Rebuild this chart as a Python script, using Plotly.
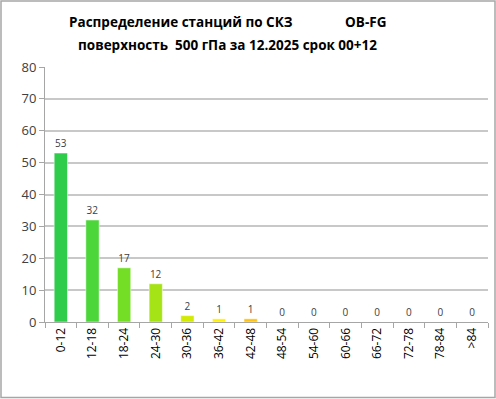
import plotly.graph_objects as go

categories = ["0-12", "12-18", "18-24", "24-30", "30-36", "36-42", "42-48",
              "48-54", "54-60", "60-66", "66-72", "72-78", "78-84", ">84"]
counts = [53, 32, 17, 12, 2, 1, 1, 0, 0, 0, 0, 0, 0, 0]
bar_colors = ["#2ecc4a", "#4cd63a", "#74de26", "#a6e316", "#d2ea06", "#fff200", "#ffc20e",
              "#ffc20e", "#ffc20e", "#ffc20e", "#ffc20e", "#ffc20e", "#ffc20e", "#ffc20e"]
y_ticks = [0, 10, 20, 30, 40, 50, 60, 70, 80]

W, H = 496, 399
ml, mr, mt, mb = 45, 8, 67, 77
pw, ph = W - ml - mr, H - mt - mb

fig = go.Figure(go.Bar(
    x=categories, y=counts,
    marker=dict(color=bar_colors, line=dict(color="rgba(255,255,255,0.5)", width=1)),
    text=[str(v) for v in counts], textposition="outside",
    textfont=dict(family="Open Sans, sans-serif", size=10, color="#404040"),
    cliponaxis=False,
))

fig.update_layout(
    width=W, height=H,
    margin=dict(l=ml, r=mr, t=mt, b=mb),
    paper_bgcolor="white", plot_bgcolor="white",
    bargap=0.58,
    showlegend=False,
    font=dict(family="Open Sans, sans-serif", color="#404040"),
    annotations=[
        dict(text="<b>Распределение станций по СКЗ               OB-FG</b>",
             xref="paper", yref="paper", x=(227 - ml) / pw, y=(322 - 22) / ph,
             xanchor="center", yanchor="middle", showarrow=False,
             font=dict(family="Open Sans, sans-serif", size=13.5, color="#000000")),
        dict(text="<b>поверхность  500 гПа за 12.2025 срок 00+12</b>",
             xref="paper", yref="paper", x=(227 - ml) / pw, y=(322 - 45) / ph,
             xanchor="center", yanchor="middle", showarrow=False,
             font=dict(family="Open Sans, sans-serif", size=13.5, color="#000000")),
    ],
    shapes=[dict(type="rect", xref="paper", yref="paper",
                 x0=(1 - ml) / pw, x1=(495 - ml) / pw,
                 y0=(322 - 397.5) / ph, y1=(322 - 1) / ph,
                 line=dict(color="#a6a6a6", width=1.5), fillcolor="rgba(0,0,0,0)")],
)
fig.update_xaxes(
    tickangle=-90, tickfont=dict(size=12, color="#000000"),
    showline=True, linecolor="#a6a6a6", linewidth=1,
    ticks="outside", tickson="boundaries", ticklen=5, tickcolor="#a6a6a6",
    showgrid=False,
)
fig.update_yaxes(
    range=[0, 80], tickvals=y_ticks, tickfont=dict(size=13, color="#404040"),
    showline=True, linecolor="#a6a6a6", linewidth=1,
    ticks="outside", ticklen=5, tickcolor="#a6a6a6",
    showgrid=True, gridcolor="#c8c8c8", gridwidth=1.5, zeroline=False,
)

fig.write_html("out.html", config={"displayModeBar": False},
               post_script="document.body.style.margin='0';")
